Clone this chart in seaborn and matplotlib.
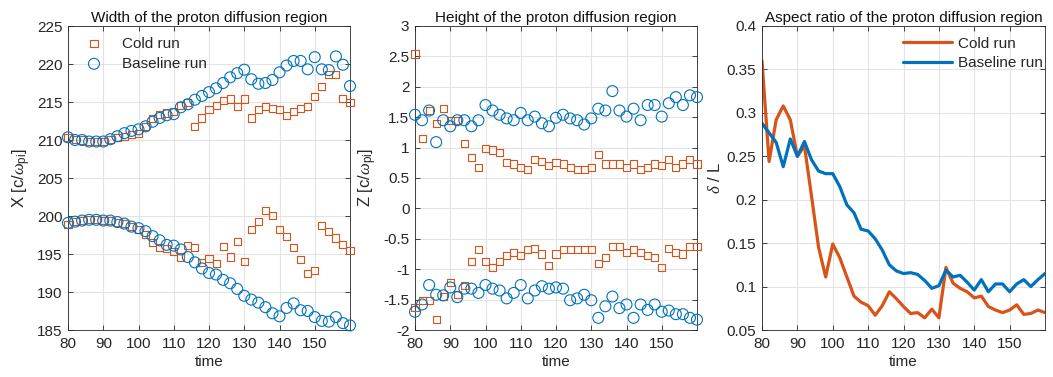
import matplotlib
matplotlib.use("Agg")
import matplotlib.pyplot as plt
import numpy as np
import pandas as pd
import seaborn as sns

# ---------------- data ----------------
time = list(range(80, 161, 2))

# Panel 1: X positions (upper and lower edge)
cold_x_upper = [210.35, 210.04, 210.0, 209.8, 209.8, 209.8, 210.1, 210.35, 210.5, 210.7,
                210.8, 211.8, 212.8, 213.3, 213.55, 213.8, 214.5, 214.9, 211.8, 212.9,
                214.0, 214.5, 215.2, 215.4, 214.4, 215.4, 212.9, 214.0, 214.4, 214.2,
                214.0, 213.2, 213.7, 214.2, 214.4, 215.7, 217.0, 218.6, 218.6, 215.5, 214.9]
base_x_upper = [210.35, 210.0, 210.0, 209.8, 209.8, 209.8, 210.1, 210.5, 210.9, 211.2,
                211.4, 211.8, 212.4, 212.9, 213.25, 213.4, 214.3, 214.7, 215.3, 215.8,
                216.3, 216.8, 217.5, 218.25, 218.8, 219.25, 218.0, 217.4, 217.5, 217.9,
                218.9, 219.8, 220.4, 220.4, 219.3, 220.9, 219.3, 219.2, 221.0, 219.9, 217.1]
cold_x_lower = [198.9, 199.25, 199.4, 199.5, 199.5, 199.4, 199.4, 199.2, 199.0, 198.6,
                198.2, 197.6, 196.5, 195.9, 195.75, 195.3, 194.6, 196.1, 195.8, 193.9,
                194.4, 193.8, 196.0, 194.6, 196.6, 194.0, 198.2, 199.25, 200.7, 200.1,
                198.2, 197.3, 195.8, 194.3, 192.4, 192.8, 198.7, 198.0, 197.1, 196.2, 195.5]
base_x_lower = [199.1, 199.25, 199.4, 199.5, 199.5, 199.4, 199.4, 199.2, 199.0, 198.6,
                198.4, 198.0, 197.35, 196.8, 196.2, 196.1, 195.6, 194.6, 193.9, 193.1,
                192.5, 192.3, 191.6, 191.15, 190.4, 189.5, 189.0, 188.6, 188.0, 187.2,
                186.8, 187.9, 188.5, 187.6, 187.5, 186.7, 186.2, 186.1, 186.7, 185.9, 185.6]

# Panel 2: Z positions (upper and lower edge)
cold_z_upper = [2.54, 1.15, 1.61, 1.40, 1.64, 1.44, 1.44, 1.06, 0.83, 0.67,
                0.99, 0.96, 0.92, 0.76, 0.73, 0.67, 0.64, 0.80, 0.77, 0.70,
                0.76, 0.73, 0.67, 0.64, 0.64, 0.67, 0.89, 0.73, 0.73, 0.73,
                0.67, 0.73, 0.64, 0.67, 0.73, 0.70, 0.80, 0.67, 0.73, 0.80, 0.73]
base_z_upper = [1.54, 1.45, 1.61, 1.09, 1.45, 1.35, 1.45, 1.45, 1.35, 1.45,
                1.70, 1.61, 1.54, 1.48, 1.45, 1.57, 1.45, 1.51, 1.40, 1.35,
                1.49, 1.54, 1.48, 1.45, 1.38, 1.48, 1.64, 1.61, 1.93, 1.61,
                1.51, 1.64, 1.45, 1.70, 1.70, 1.51, 1.73, 1.83, 1.70, 1.86, 1.83]
cold_z_lower = [-1.63, -1.51, -1.51, -1.83, -1.45, -1.22, -1.42, -1.27, -0.87, -0.68,
                -0.87, -0.97, -0.87, -0.78, -0.72, -0.78, -0.68, -0.66, -0.75, -0.94,
                -0.75, -0.68, -0.68, -0.68, -0.68, -0.68, -0.91, -0.81, -0.62, -0.62,
                -0.72, -0.68, -0.72, -0.78, -0.81, -0.97, -0.66, -0.72, -0.75, -0.62, -0.62]
base_z_lower = [-1.70, -1.58, -1.26, -1.42, -1.43, -1.30, -1.46, -1.32, -1.32, -1.39,
                -1.26, -1.32, -1.35, -1.48, -1.39, -1.26, -1.48, -1.35, -1.28, -1.32,
                -1.30, -1.32, -1.51, -1.48, -1.42, -1.51, -1.80, -1.61, -1.45, -1.64,
                -1.58, -1.80, -1.58, -1.67, -1.58, -1.70, -1.68, -1.74, -1.74, -1.80, -1.83]

# Panel 3: aspect ratio
cold_ratio = [0.360, 0.244, 0.292, 0.308, 0.292, 0.250, 0.262, 0.204, 0.145, 0.111,
              0.149, 0.133, 0.111, 0.089, 0.082, 0.078, 0.067, 0.078, 0.094, 0.086,
              0.077, 0.069, 0.070, 0.064, 0.074, 0.064, 0.122, 0.104, 0.098, 0.094,
              0.087, 0.089, 0.077, 0.073, 0.070, 0.073, 0.079, 0.068, 0.069, 0.073, 0.070]
base_ratio = [0.288, 0.277, 0.266, 0.238, 0.270, 0.250, 0.267, 0.246, 0.233, 0.230,
              0.230, 0.215, 0.194, 0.185, 0.166, 0.164, 0.155, 0.142, 0.125, 0.118,
              0.115, 0.116, 0.114, 0.107, 0.098, 0.101, 0.119, 0.111, 0.113, 0.105,
              0.096, 0.108, 0.094, 0.103, 0.103, 0.094, 0.103, 0.108, 0.100, 0.108, 0.115]

titles = ["Width of the proton diffusion region",
          "Height of the proton diffusion region",
          "Aspect ratio of the proton diffusion region"]
run_labels = ["Cold run", "Baseline run"]
xticks = [80, 90, 100, 110, 120, 130, 140, 150]

# ---------------- style ----------------
ORANGE = "#D95319"
BLUE = "#0072BD"

sns.set_theme(style="white")
plt.rcParams["font.family"] = ["Liberation Sans", "DejaVu Sans"]
plt.rcParams["mathtext.fontset"] = "custom"
plt.rcParams["mathtext.rm"] = "Liberation Sans"
plt.rcParams["mathtext.it"] = "Liberation Serif:italic"
plt.rcParams["axes.edgecolor"] = "#262626"
plt.rcParams["axes.linewidth"] = 0.6

fig = plt.figure(figsize=(10.53, 3.77), dpi=100)
W, H = 1053, 377
boxes = [(68, 350), (415, 697), (762, 1045)]
top, bottom = 26, 330
axes = [fig.add_axes([l / W, (H - bottom) / H, (r - l) / W, (bottom - top) / H]) for l, r in boxes]

def style_axis(ax, title, ylabel):
    ax.set_xlim(80, 160)
    ax.set_xticks(xticks)
    ax.grid(True, color="#e3e3e3", linewidth=0.8)
    ax.set_axisbelow(True)
    ax.tick_params(axis="both", direction="in", top=True, right=True, length=3.5, width=0.6,
                   labelsize=11, colors="#262626", bottom=True, left=True)
    ax.tick_params(axis="x", pad=5)
    ax.tick_params(axis="y", pad=4)
    for s in ax.spines.values():
        s.set_visible(True)
        s.set_color("#262626")
    ax.set_title(title, fontsize=11, color="#111111", pad=3)
    ax.set_xlabel("time", fontsize=11, color="#262626", labelpad=3)
    ax.set_ylabel(ylabel, fontsize=12, color="#262626", labelpad=3)

def scatter_pair(ax, ys_cold, ys_base, with_label):
    for ys, marker, color, size, lab in [
        (ys_cold, "s", ORANGE, 26, run_labels[0]),
        (ys_base, "o", BLUE, 62, run_labels[1]),
    ]:
        for i, y in enumerate(ys):
            df = pd.DataFrame({"time": time, "val": y})
            sns.scatterplot(data=df, x="time", y="val", ax=ax, marker=marker, s=size,
                            facecolor="none", edgecolor=color, linewidth=0.8,
                            label=(lab if (with_label and i == 0) else None),
                            clip_on=False, zorder=3)

# Panel 1
ax = axes[0]
scatter_pair(ax, [cold_x_upper, cold_x_lower], [base_x_upper, base_x_lower], True)
ax.set_ylim(185, 225)
ax.set_yticks(range(185, 226, 5))
style_axis(ax, titles[0], r"X [c/$\mathit{\omega}_{\mathrm{pi}}$]")
leg = ax.legend(loc="upper left", frameon=False, fontsize=11, handletextpad=0.85,
                borderaxespad=0.3, labelspacing=0.4, bbox_to_anchor=(0.0, 1.0))

# Panel 2
ax = axes[1]
scatter_pair(ax, [cold_z_upper, cold_z_lower], [base_z_upper, base_z_lower], False)
ax.set_ylim(-2, 3)
ax.set_yticks([-2, -1.5, -1, -0.5, 0, 0.5, 1, 1.5, 2, 2.5, 3])
ax.set_yticklabels(["-2", "-1.5", "-1", "-0.5", "0", "0.5", "1", "1.5", "2", "2.5", "3"])
style_axis(ax, titles[1], r"Z [c/$\mathit{\omega}_{\mathrm{pi}}$]")
if ax.get_legend():
    ax.get_legend().remove()

# Panel 3
ax = axes[2]
df3 = pd.DataFrame({
    "time": time * 2,
    "ratio": cold_ratio + base_ratio,
    "run": [run_labels[0]] * len(time) + [run_labels[1]] * len(time),
})
sns.lineplot(data=df3, x="time", y="ratio", hue="run", ax=ax,
             palette={run_labels[0]: ORANGE, run_labels[1]: BLUE}, linewidth=2.3)
ax.set_ylim(0.05, 0.4)
ax.set_yticks([0.05, 0.1, 0.15, 0.2, 0.25, 0.3, 0.35, 0.4])
ax.set_yticklabels(["0.05", "0.1", "0.15", "0.2", "0.25", "0.3", "0.35", "0.4"])
style_axis(ax, titles[2], r"$\mathit{\delta}$ / L")
ax.legend(loc="upper right", frameon=False, fontsize=11, handlelength=3.2,
          handletextpad=0.4, borderaxespad=0.3, labelspacing=0.35,
          bbox_to_anchor=(1.03, 1.0), title=None)

fig.savefig("out.png", dpi=100)
